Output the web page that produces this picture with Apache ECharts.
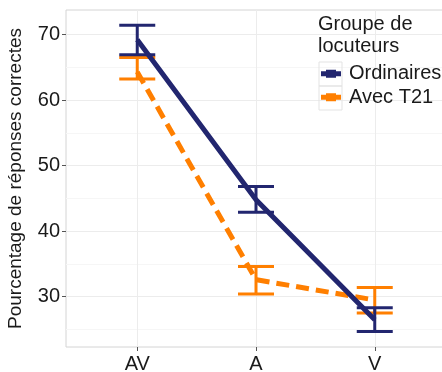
<!DOCTYPE html>
<html>
<head>
<meta charset="utf-8">
<script src="https://cdn.jsdelivr.net/npm/echarts@6/dist/echarts.min.js"></script>
<style>
  html, body { margin: 0; padding: 0; background: #fff; }
  #chart { width: 442px; height: 372px; }
</style>
</head>
<body>
<div id="chart"></div>
<script>
var categories = ['AV', 'A', 'V'];

var ordMean = [69.2, 44.8, 26.5];
var ordLow = [66.9, 42.9, 24.7];
var ordHigh = [71.4, 46.8, 28.3];

var t21Mean = [64.3, 32.6, 29.5];
var t21Low = [63.2, 30.4, 27.5];
var t21High = [66.5, 34.6, 31.4];

var yMajor = [30, 40, 50, 60, 70];
var yMinor = [25, 35, 45, 55, 65];

var navy = '#22266f';
var orange = '#ff7f00';

function toLine(values) {
    return values.map(function(v, i) { return [i + 1, v]; });
}

function toBars(low, high) {
    return low.map(function(v, i) { return [i + 1, v, high[i]]; });
}

function errorBar(params, api) {
    var x = api.value(0);
    var top = api.coord([x, api.value(2)]);
    var bot = api.coord([x, api.value(1)]);
    var half = 18;
    var style = { stroke: api.visual('color'), lineWidth: 3 };
    return {
        type: 'group',
        children: [
            { type: 'line', shape: { x1: top[0], y1: top[1], x2: bot[0], y2: bot[1] }, style: style },
            { type: 'line', shape: { x1: top[0] - half, y1: top[1], x2: top[0] + half, y2: top[1] }, style: style },
            { type: 'line', shape: { x1: bot[0] - half, y1: bot[1], x2: bot[0] + half, y2: bot[1] }, style: style }
        ]
    };
}

var keyIcon = 'path://M0,1.5h20v5h-20z M5,0h10v8h-10z';

var myChart = echarts.init(document.getElementById('chart'));

var option = {
    animation: false,
    textStyle: { fontFamily: 'Liberation Sans' },
    title: {
        text: 'Groupe de\nlocuteurs',
        left: 318,
        top: 13,
        padding: 0,
        textStyle: { fontSize: 20, lineHeight: 22, fontWeight: 'normal', color: '#1a1a1a', fontFamily: 'Liberation Sans' }
    },
    legend: {
        orient: 'vertical',
        left: 321,
        top: 62,
        padding: 0,
        itemWidth: 20,
        itemHeight: 8,
        itemGap: 0,
        data: [
            { name: 'Ordinaires', icon: keyIcon },
            { name: 'Avec T21', icon: keyIcon }
        ],
        textStyle: { fontSize: 20, lineHeight: 23.5, color: '#1a1a1a', padding: [0, 0, 0, 3] }
    },
    graphic: [
        { type: 'rect', shape: { x: 319, y: 62, width: 23, height: 24 }, style: { fill: 'none', stroke: '#e3e3e3', lineWidth: 1 }, z: 10 },
        { type: 'rect', shape: { x: 319, y: 86, width: 23, height: 24 }, style: { fill: 'none', stroke: '#e3e3e3', lineWidth: 1 }, z: 10 }
    ],
    grid: {
        left: 66,
        top: 10,
        right: -4,
        bottom: 25,
        outerBoundsMode: 'none',
        containLabel: false,
        show: true,
        borderColor: '#d4d4d4',
        borderWidth: 1,
        backgroundColor: '#fff'
    },
    xAxis: {
        type: 'value',
        min: 0.4,
        max: 3.6,
        axisLine: { show: false },
        axisTick: { show: true, length: 4, customValues: [1, 2, 3], lineStyle: { color: '#555' } },
        axisLabel: {
            customValues: [1, 2, 3],
            margin: 7,
            fontSize: 20,
            color: '#1a1a1a',
            formatter: function(v) { return categories[Math.round(v) - 1]; }
        },
        splitLine: { show: true, lineStyle: { color: '#ececec', width: 1 } }
    },
    yAxis: [{
        type: 'value',
        min: 22.33,
        max: 73.74,
        name: 'Pourcentage de réponses correctes',
        nameLocation: 'middle',
        nameGap: 41,
        nameTextStyle: { fontSize: 19, color: '#1a1a1a' },
        axisLine: { show: false },
        axisTick: { show: true, length: 4, customValues: yMajor, lineStyle: { color: '#555' } },
        axisLabel: { customValues: yMajor, margin: 6, fontSize: 20, color: '#1a1a1a' },
        splitLine: { show: true, lineStyle: { color: '#ececec', width: 1 } }
    }, {
        type: 'value',
        min: 22.33,
        max: 73.74,
        position: 'left',
        axisLine: { show: false },
        axisTick: { show: false, customValues: yMinor },
        axisLabel: { show: false, customValues: yMinor },
        splitLine: { show: true, lineStyle: { color: '#f6f6f6', width: 1 } }
    }],
    series: [{
        name: 'Avec T21 bars',
        type: 'custom',
        renderItem: errorBar,
        itemStyle: { color: orange },
        encode: { x: 0, y: [1, 2] },
        data: toBars(t21Low, t21High),
        z: 2
    }, {
        name: 'Avec T21',
        type: 'line',
        data: toLine(t21Mean),
        symbol: 'none',
        color: orange,
        lineStyle: { color: orange, width: 5, type: [13, 7], cap: 'butt' },
        z: 3
    }, {
        name: 'Ordinaires bars',
        type: 'custom',
        renderItem: errorBar,
        itemStyle: { color: navy },
        encode: { x: 0, y: [1, 2] },
        data: toBars(ordLow, ordHigh),
        z: 4
    }, {
        name: 'Ordinaires',
        type: 'line',
        data: toLine(ordMean),
        symbol: 'none',
        color: navy,
        lineStyle: { color: navy, width: 5 },
        z: 5
    }]
};

myChart.setOption(option);
</script>
</body>
</html>
